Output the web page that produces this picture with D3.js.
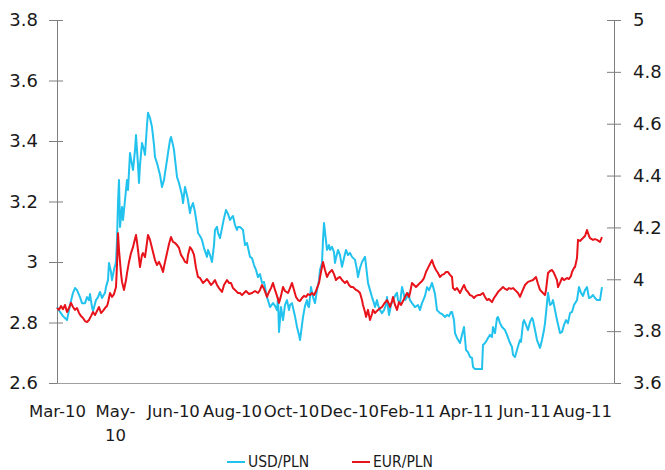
<!DOCTYPE html>
<html>
<head>
<meta charset="utf-8">
<script src="https://cdn.jsdelivr.net/npm/d3@7"></script>
<style>
  html, body { margin: 0; padding: 0; background: #fff; }
  svg { display: block; }
</style>
</head>
<body>
<script>
// Daily fixings, keyed by days elapsed since startDate
const startDate = "2010-03-04";
const axisEndDate = "2011-09-12";

const usdPln = [[0,2.851],[3,2.835],[6,2.821],[10,2.808],[13,2.858],[16,2.898],[18,2.914],[20,2.907],[23,2.884],[25,2.864],[28,2.864],[30,2.884],[32,2.874],[33,2.894],[35,2.851],[36,2.838],[39,2.874],[41,2.884],[43,2.901],[45,2.881],[48,2.898],[49,2.917],[51,2.940],[52,2.997],[54,2.967],[55,2.940],[57,2.974],[59,3.000],[60,3.073],[61,3.195],[62,3.271],[63,3.116],[65,3.182],[66,3.139],[68,3.205],[70,3.271],[71,3.238],[73,3.360],[75,3.321],[76,3.304],[78,3.370],[79,3.420],[80,3.370],[81,3.321],[82,3.261],[83,3.321],[85,3.393],[87,3.370],[88,3.354],[90,3.453],[91,3.493],[93,3.476],[95,3.446],[97,3.387],[98,3.347],[100,3.327],[101,3.314],[103,3.288],[105,3.248],[107,3.271],[108,3.294],[110,3.337],[111,3.360],[113,3.403],[114,3.413],[116,3.387],[117,3.370],[119,3.311],[120,3.281],[122,3.261],[123,3.248],[125,3.221],[126,3.195],[128,3.248],[130,3.221],[131,3.205],[133,3.162],[134,3.179],[136,3.195],[138,3.165],[140,3.122],[141,3.096],[143,3.086],[145,3.073],[147,3.046],[150,3.017],[151,3.040],[153,3.023],[155,3.000],[157,3.056],[158,3.106],[160,3.116],[161,3.096],[163,3.079],[165,3.112],[167,3.145],[169,3.172],[171,3.159],[173,3.139],[175,3.149],[176,3.152],[178,3.122],[180,3.106],[181,3.116],[183,3.116],[186,3.106],[188,3.056],[190,3.063],[193,3.017],[195,3.013],[197,2.990],[199,2.974],[201,2.950],[203,2.960],[205,2.931],[207,2.934],[210,2.884],[213,2.851],[216,2.864],[218,2.855],[220,2.841],[221,2.881],[222,2.769],[224,2.851],[226,2.808],[228,2.858],[230,2.874],[232,2.841],[233,2.858],[235,2.864],[237,2.835],[238,2.821],[240,2.785],[242,2.759],[243,2.742],[245,2.792],[246,2.818],[248,2.855],[250,2.874],[251,2.855],[252,2.851],[254,2.917],[256,2.884],[258,2.864],[260,2.907],[262,2.940],[263,2.974],[265,2.997],[266,3.073],[267,3.129],[268,3.099],[270,3.040],[272,3.056],[273,3.040],[275,3.050],[277,3.033],[278,2.997],[279,3.013],[281,3.040],[283,3.023],[285,2.984],[287,3.013],[289,3.040],[291,3.023],[293,3.030],[295,3.017],[298,3.007],[300,2.974],[301,2.950],[303,2.980],[305,3.000],[308,3.017],[309,2.990],[311,2.931],[313,2.907],[315,2.884],[317,2.864],[318,2.851],[320,2.874],[321,2.858],[323,2.841],[325,2.831],[327,2.841],[329,2.858],[330,2.884],[331,2.851],[332,2.825],[334,2.858],[336,2.874],[338,2.888],[340,2.898],[341,2.874],[343,2.864],[345,2.917],[347,2.891],[348,2.874],[350,2.884],[351,2.898],[353,2.874],[355,2.864],[358,2.851],[361,2.858],[363,2.841],[365,2.864],[368,2.888],[370,2.917],[372,2.907],[373,2.914],[375,2.931],[377,2.907],[378,2.894],[380,2.841],[383,2.831],[385,2.828],[388,2.818],[390,2.825],[392,2.821],[394,2.835],[395,2.835],[397,2.808],[398,2.765],[400,2.749],[403,2.732],[405,2.759],[407,2.785],[409,2.709],[411,2.702],[413,2.686],[415,2.683],[416,2.653],[418,2.646],[420,2.646],[423,2.646],[425,2.646],[426,2.726],[428,2.732],[430,2.742],[431,2.749],[433,2.759],[435,2.752],[436,2.785],[438,2.765],[440,2.815],[441,2.818],[443,2.798],[445,2.785],[448,2.775],[450,2.759],[453,2.732],[455,2.719],[456,2.693],[458,2.686],[460,2.709],[462,2.732],[463,2.742],[464,2.736],[466,2.798],[467,2.808],[469,2.792],[471,2.775],[473,2.802],[475,2.815],[476,2.808],[478,2.775],[480,2.742],[483,2.716],[485,2.742],[487,2.775],[488,2.798],[490,2.864],[491,2.898],[493,2.858],[495,2.864],[496,2.874],[498,2.841],[500,2.808],[503,2.765],[505,2.769],[507,2.792],[509,2.808],[511,2.798],[513,2.831],[515,2.835],[517,2.858],[520,2.874],[522,2.917],[524,2.898],[526,2.888],[528,2.907],[530,2.917],[532,2.881],[534,2.884],[536,2.891],[538,2.881],[540,2.874],[543,2.874],[545,2.917]];

const eurPln = [[0,3.889],[2,3.882],[4,3.897],[6,3.885],[8,3.901],[10,3.874],[12,3.889],[14,3.909],[16,3.893],[18,3.882],[20,3.889],[22,3.870],[24,3.858],[26,3.851],[28,3.839],[30,3.835],[32,3.843],[34,3.858],[36,3.874],[38,3.862],[40,3.878],[42,3.893],[44,3.870],[46,3.878],[48,3.889],[50,3.897],[51,3.909],[53,3.947],[55,3.932],[57,3.943],[59,3.970],[60,4.055],[61,4.178],[62,4.113],[64,4.024],[65,3.990],[67,3.959],[69,3.997],[70,4.024],[72,4.067],[74,4.101],[76,4.124],[77,4.140],[79,4.171],[80,4.144],[81,4.113],[83,4.047],[85,4.094],[86,4.101],[88,4.086],[89,4.113],[91,4.171],[93,4.152],[95,4.121],[98,4.074],[100,4.055],[102,4.067],[104,4.051],[106,4.028],[108,4.067],[110,4.101],[112,4.136],[114,4.163],[116,4.144],[118,4.140],[120,4.132],[122,4.121],[124,4.094],[126,4.082],[128,4.067],[130,4.063],[131,4.094],[133,4.124],[135,4.113],[137,4.094],[139,4.044],[141,4.009],[143,4.005],[146,3.986],[148,3.993],[150,4.001],[152,3.990],[154,3.978],[156,3.986],[158,3.997],[160,3.978],[162,3.966],[165,3.951],[167,3.978],[170,3.997],[172,3.986],[174,3.986],[176,3.966],[178,3.959],[181,3.947],[183,3.947],[185,3.939],[187,3.947],[189,3.955],[192,3.943],[195,3.947],[198,3.955],[201,3.947],[203,3.959],[205,3.978],[207,3.963],[210,3.932],[212,3.951],[214,3.966],[216,3.986],[218,3.959],[220,3.936],[222,3.909],[224,3.936],[226,3.970],[228,3.955],[231,3.947],[233,3.966],[235,3.986],[237,3.959],[239,3.932],[241,3.920],[243,3.916],[245,3.928],[247,3.936],[249,3.932],[251,3.943],[253,3.939],[255,3.947],[257,3.939],[259,3.955],[262,3.986],[264,4.028],[266,4.067],[268,4.036],[270,4.009],[272,4.024],[275,4.036],[277,4.020],[279,3.997],[281,4.005],[283,4.009],[285,3.997],[288,3.986],[290,3.993],[292,3.978],[294,3.970],[296,3.970],[299,3.959],[301,3.955],[303,3.947],[305,3.920],[306,3.901],[308,3.874],[309,3.855],[311,3.882],[313,3.843],[315,3.866],[316,3.882],[318,3.870],[320,3.878],[322,3.885],[325,3.893],[327,3.905],[330,3.920],[332,3.905],[333,3.893],[335,3.916],[336,3.932],[338,3.901],[340,3.882],[342,3.912],[344,3.901],[346,3.916],[348,3.932],[350,3.947],[352,3.932],[353,3.947],[355,3.986],[357,3.978],[359,3.970],[361,3.978],[363,3.986],[365,3.993],[367,4.005],[369,4.028],[371,4.044],[373,4.059],[375,4.074],[377,4.051],[379,4.036],[381,4.024],[383,4.009],[385,4.017],[387,4.020],[389,4.028],[391,4.028],[393,4.017],[395,4.009],[396,3.966],[398,3.959],[400,3.966],[403,3.947],[405,3.963],[407,3.978],[409,3.959],[411,3.951],[413,3.939],[415,3.936],[417,3.928],[419,3.936],[421,3.939],[423,3.939],[426,3.947],[428,3.932],[430,3.920],[432,3.924],[435,3.912],[437,3.928],[439,3.939],[441,3.951],[443,3.959],[446,3.970],[448,3.963],[450,3.959],[452,3.966],[454,3.963],[456,3.966],[458,3.959],[461,3.947],[463,3.932],[465,3.951],[468,3.978],[471,3.990],[473,3.993],[476,3.997],[479,4.009],[481,3.982],[483,3.959],[485,3.951],[488,3.939],[489,3.959],[491,4.024],[493,4.032],[495,4.036],[497,4.024],[500,3.997],[501,3.970],[503,3.986],[505,4.005],[507,3.997],[510,4.005],[512,4.001],[514,4.013],[515,4.028],[517,4.044],[518,4.047],[520,4.082],[521,4.152],[523,4.148],[526,4.159],[528,4.167],[530,4.190],[532,4.167],[533,4.159],[536,4.152],[538,4.155],[540,4.152],[543,4.144],[545,4.163]];

const usdTicks = [2.6, 2.8, 3.0, 3.2, 3.4, 3.6, 3.8];
const eurTicks = [3.6, 3.8, 4.0, 4.2, 4.4, 4.6, 4.8, 5.0];
const tickDates = ["2010-03-04","2010-05-01","2010-06-28","2010-08-26","2010-10-24",
                   "2010-12-21","2011-02-17","2011-04-17","2011-06-14","2011-08-11"];
const tickLabels = ["Mar-10","May-\n10","Jun-10","Aug-10","Oct-10",
                    "Dec-10","Feb-11","Apr-11","Jun-11","Aug-11"];
const seriesNames = ["USD/PLN", "EUR/PLN"];
const seriesColors = ["#22c2ee", "#e8121a"];

const W = 665, H = 470;
const plot = { left: 57, right: 614, top: 20, bottom: 383 };
const axisColor = "#7f7f7f";
const numFont = "'DejaVu Sans', Verdana, sans-serif";
const textFont = "'DejaVu Sans Condensed', 'DejaVu Sans', sans-serif";

const parse = d3.timeParse("%Y-%m-%d");
const t0 = parse(startDate);
const toDate = d => d3.timeDay.offset(t0, d);

const x = d3.scaleTime()
  .domain([t0, parse(axisEndDate)])
  .range([plot.left, plot.right]);
const yL = d3.scaleLinear().domain([2.6, 3.8]).range([plot.bottom, plot.top]);
const yR = d3.scaleLinear().domain([3.6, 5.0]).range([plot.bottom, plot.top]);

const svg = d3.select("body").append("svg")
  .attr("width", W).attr("height", H)
  .attr("viewBox", `0 0 ${W} ${H}`);

const fmt = v => String(+v.toFixed(1));

// left value axis (USD/PLN)
const gL = svg.append("g")
  .attr("transform", `translate(${plot.left},0)`)
  .call(d3.axisLeft(yL).tickValues(usdTicks).tickFormat(fmt)
        .tickSizeInner(8).tickSizeOuter(0).tickPadding(11));
gL.select(".domain").attr("stroke", axisColor);
gL.selectAll(".tick line").attr("stroke", axisColor).attr("x2", -8).attr("x1", 6);
gL.selectAll(".tick text")
  .attr("font-family", numFont).attr("font-size", 18).attr("fill", "#1a1a1a");

// right value axis (EUR/PLN)
const gR = svg.append("g")
  .attr("transform", `translate(${plot.right},0)`)
  .call(d3.axisRight(yR).tickValues(eurTicks).tickFormat(fmt)
        .tickSizeInner(7).tickSizeOuter(0).tickPadding(12));
gR.select(".domain").attr("stroke", axisColor);
gR.selectAll(".tick line").attr("stroke", axisColor).attr("x1", -7).attr("x2", 7);
gR.selectAll(".tick text")
  .attr("font-family", numFont).attr("font-size", 18).attr("fill", "#1a1a1a");

// date axis along the bottom
const gB = svg.append("g")
  .attr("transform", `translate(0,${plot.bottom})`)
  .call(d3.axisBottom(x).tickValues(tickDates.map(parse))
        .tickSize(0).tickPadding(22).tickFormat(() => ""));
gB.select(".domain").attr("stroke", "#a0a0a0");
gB.selectAll(".tick text")
  .attr("font-family", numFont).attr("font-size", 16.5).attr("fill", "#1a1a1a")
  .each(function (d, i) {
    const t = d3.select(this);
    tickLabels[i].split("\n").forEach((line, j) => {
      t.append("tspan").attr("x", 0).attr("dy", j ? "1.5em" : "0.71em").text(line);
    });
  });

// series lines
const usdLine = d3.line().x(d => x(toDate(d[0]))).y(d => yL(d[1]));
const eurLine = d3.line().x(d => x(toDate(d[0]))).y(d => yR(d[1]));

svg.append("path").datum(usdPln)
  .attr("d", usdLine).attr("fill", "none")
  .attr("stroke", seriesColors[0]).attr("stroke-width", 2)
  .attr("stroke-linejoin", "round");
svg.append("path").datum(eurPln)
  .attr("d", eurLine).attr("fill", "none")
  .attr("stroke", seriesColors[1]).attr("stroke-width", 2)
  .attr("stroke-linejoin", "round");

// legend
const legendX = [227, 352];
const legend = svg.append("g").attr("transform", "translate(0,462)");
seriesNames.forEach((name, i) => {
  const g = legend.append("g").attr("transform", `translate(${legendX[i]},0)`);
  g.append("line").attr("x1", 0).attr("x2", 18).attr("y1", 0).attr("y2", 0)
    .attr("stroke", seriesColors[i]).attr("stroke-width", 2);
  g.append("text").attr("x", 21).attr("y", 5)
    .attr("font-family", textFont).attr("font-size", 15.5).attr("fill", "#1a1a1a")
    .text(name);
});
</script>
</body>
</html>
